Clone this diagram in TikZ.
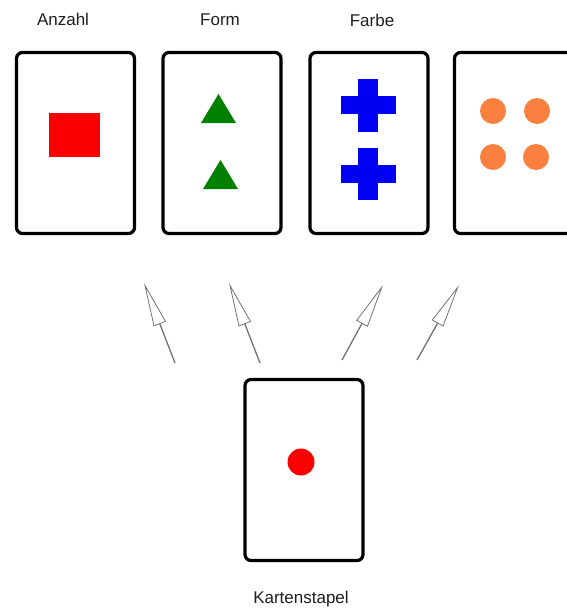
\documentclass[tikz,border=0pt]{standalone}
\usepackage{fontspec}
\setmainfont{Liberation Sans}
\usetikzlibrary{arrows.meta}
\definecolor{cardgreen}{RGB}{0,128,0}
\definecolor{cardblue}{RGB}{0,0,245}
\definecolor{cardorange}{RGB}{250,128,64}
\definecolor{cardred}{RGB}{250,0,0}
\definecolor{labeltext}{RGB}{30,30,30}
\begin{document}
\begin{tikzpicture}[x=1pt,y=-1pt,
  card/.style={draw=black,line width=3.2pt,rounded corners=6pt,minimum width=118pt,minimum height=181pt,inner sep=0pt,fill=white},
  lbl/.style={font=\fontsize{17}{20}\selectfont,text=labeltext,inner sep=0pt,anchor=base},
  pointer/.style={draw=black!55,line width=1.3pt,-{Triangle[open,length=44pt,width=13pt,line width=0.8pt]}}
]
\useasboundingbox (0,0) rectangle (566,608);
% cards
\node[card] (c1) at (75.5,143) {};
\node[card] (c2) at (222,143) {};
\node[card] (c3) at (369,143) {};
\node[card] (c4) at (513.5,143) {};
\node[card] (deck) at (304,470) {};
% labels
\node[lbl] (l1) at (63,25) {Anzahl};
\node[lbl] (l2) at (220,25) {Form};
\node[lbl] (l3) at (372,26) {Farbe};
\node[lbl] (l5) at (301,603) {Kartenstapel};
% card 1: red square
\fill[cardred] (49,113) rectangle (100,157);
% card 2: green triangles
\fill[cardgreen] (218.5,94) -- (236,123) -- (201,123) -- cycle;
\fill[cardgreen] (220.5,160) -- (238,189) -- (203,189) -- cycle;
% card 3: blue crosses
\fill[cardblue] (358,79) rectangle (378,132);
\fill[cardblue] (341,96) rectangle (396,114);
\fill[cardblue] (358,148) rectangle (378,200);
\fill[cardblue] (341,165) rectangle (396,183);
% card 4: orange dots
\fill[cardorange] (493,111) circle (13);
\fill[cardorange] (537,111) circle (13);
\fill[cardorange] (493,157) circle (13);
\fill[cardorange] (536,157) circle (13);
% deck: red dot
\fill[cardred] (301,462) circle (13.5);
% arrows
\coordinate (s1) at (175,363); \coordinate (e1) at (144,283);
\coordinate (s2) at (260,363); \coordinate (e2) at (229,283);
\coordinate (s3) at (342,360); \coordinate (e3) at (383,285);
\coordinate (s4) at (417,360); \coordinate (e4) at (459,285);
\draw[pointer] (s1) -- (e1);
\draw[pointer] (s2) -- (e2);
\draw[pointer] (s3) -- (e3);
\draw[pointer] (s4) -- (e4);
\end{tikzpicture}
\end{document}
